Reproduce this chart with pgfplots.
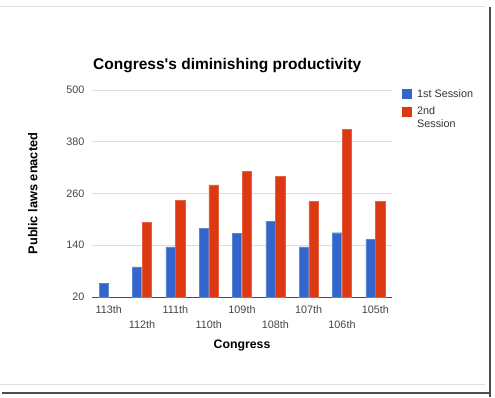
\documentclass[border=0pt]{standalone}
\usepackage{pgfplots}
\pgfplotsset{compat=1.18}
\usepackage{fontspec}
\setmainfont{Liberation Sans}
\definecolor{gblue}{HTML}{3366CC}
\definecolor{gred}{HTML}{DC3912}
\definecolor{ticklab}{HTML}{444444}
\definecolor{gridc}{HTML}{DDDDDD}
\begin{document}
\begin{tikzpicture}[x=1pt,y=1pt]
\path[use as bounding box] (0pt,0pt) rectangle (495pt,397pt);
% frame
\draw[gray!25, line width=1pt] (0pt,390pt) -- (485pt,390pt);
\draw[gray!25, line width=1pt] (0pt,12.5pt) -- (485pt,12.5pt);
\draw[black!70, line width=2.5pt] (490pt,0pt) -- (490pt,390pt);
\draw[black!70, line width=2.5pt] (2pt,4pt) -- (491pt,4pt);
\begin{axis}[
  at={(92pt,100pt)}, anchor=south west,
  scale only axis, width=300pt, height=207pt,
  xmin=-0.5, xmax=8.5, ymin=20, ymax=500,
  ytick={20,140,260,380,500},
  ymajorgrids, grid style={gridc, line width=0.8pt},
  axis y line*=left, y axis line style={draw=none},
  axis x line*=bottom, x axis line style={draw=black!70, line width=0.8pt},
  tick style={draw=none},
  xtick={0,2,4,6,8}, xticklabels={113th,111th,109th,107th,105th},
  extra x ticks={1,3,5,7}, extra x tick labels={112th,110th,108th,106th},
  extra x tick style={tick label style={yshift=-15pt}, grid=none},
  tick label style={font=\fontsize{10.8}{12}\selectfont, text=ticklab},
  xticklabel style={yshift=-1pt},
  yticklabel style={xshift=-4pt},
  /pgf/number format/assume math mode=true,
  ybar, bar width=9.3pt,
  xlabel={\bfseries Congress}, xlabel style={font=\fontsize{12.3}{14}\selectfont, yshift=0pt},
  ylabel={\bfseries Public laws enacted}, ylabel style={font=\fontsize{12.8}{14}\selectfont, yshift=22pt},
]
\addplot[fill=gblue, draw=gblue!80!white, bar shift=-4.9pt] coordinates {
(0,51) (1,90) (2,136) (3,179) (4,167) (5,196) (6,136) (7,169) (8,153)};
\addplot[fill=gred, draw=gred!80!white, bar shift=4.9pt] coordinates {
(1,193) (2,244) (3,280) (4,311) (5,299) (6,241) (7,408) (8,241)};
\end{axis}
\node[anchor=base west, font=\fontsize{15.5}{17}\selectfont\bfseries, inner sep=0] at (93pt,327pt) {Congress\textquotesingle s diminishing productivity};
% legend
\fill[gblue] (402pt,298pt) rectangle (412pt,308pt);
\node[anchor=west, font=\fontsize{10.8}{12}\selectfont, text=black!80, inner sep=0] at (417pt,303pt) {1st Session};
\fill[gred] (402pt,280pt) rectangle (412pt,290pt);
\node[anchor=north west, align=left, font=\fontsize{10.8}{13.5}\selectfont, text=black!80, inner sep=0] at (417pt,291pt) {2nd\\Session};
\end{tikzpicture}
\end{document}
